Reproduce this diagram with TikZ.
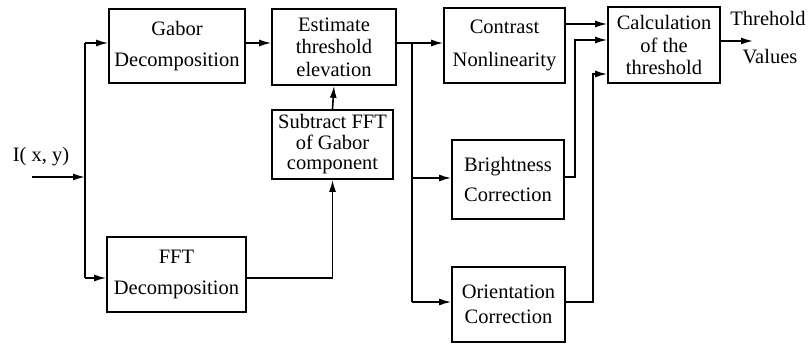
\documentclass[tikz,border=0pt]{standalone}
\usepackage{fontspec}
\setmainfont{Liberation Serif}
\usetikzlibrary{arrows.meta}

\begin{document}
\begin{tikzpicture}
            [
            x=1pt, y=-1pt,
            every node/.style={font={\fontsize{20.5}{22.5}\selectfont}},
            block/.style={draw, line width=1.7pt, inner sep=0pt,
                align=center},
            arr/.style={line width=1.6pt, -{Latex[length=12pt,width=7pt]}},
            wire/.style={line width=1.6pt},
            ]
            \useasboundingbox (0,0) rectangle (808,345);
            % Boxes
            \node[block, minimum width=136, minimum height=74] (gabor) at (177,46)
                {Gabor\\[9pt]Decomposition};
            \node[block, minimum width=124, minimum height=76] (estim) at (334,47)
                {Estimate\\threshold\\elevation};
            \node[block, minimum width=121, minimum height=69] (subtr) at (332.5,144.5)
                {Subtract FFT\\[-2pt]of Gabor\\[-2pt]component};
            \node[block, minimum width=139, minimum height=75] (fft) at (176.5,274.5)
                {FFT\\[9pt]Decomposition};
            \node[block, minimum width=121, minimum height=75] (contr) at (504.5,45.5)
                {Contrast\\[10pt]Nonlinearity};
            \node[block, minimum width=112, minimum height=79] (bright) at (508,179.5)
                {Brightness\\[8pt]Correction};
            \node[block, minimum width=113, minimum height=75] (orient) at (508.5,304.5)
                {Orientation\\[2pt]Correction};
            \node[block, minimum width=112, minimum height=76] (calc) at (664,45)
                {Calculation\\of the\\threshold};

            % Labels
            \node (inlab) at (41,157) {I( x, y)};
            \node (thr) at (768,18) {Threhold};
            \node (val) at (770,57) {Values};

            % Input side
            \coordinate (in) at (32,177);
            \coordinate (split) at (85,177);
            \coordinate (jg) at (85,43);
            \coordinate (jf) at (85,278);
            \draw[arr] (in) -- (split);
            \draw[wire] (jg) -- (jf);
            \draw[arr] (jg) -- (jg -| gabor.west);
            \draw[arr] (jf) -- (jf -| fft.west);
            \draw[arr] (gabor.east |- jg) -- (estim.west |- jg);
            \draw[arr] (jf -| fft.east) -| (subtr.south);
            \draw[arr] (subtr.north) -- (estim.south);

            % Branches
            \coordinate (branch) at (412,43);
            \coordinate (jb) at (412,178);
            \coordinate (jo) at (412,302);
            \draw[wire] (estim.east |- branch) -- (branch) -- (jo);
            \draw[arr] (branch) -- (branch -| contr.west);
            \draw[arr] (jb) -- (jb -| bright.west);
            \draw[arr] (jo) -- (jo -| orient.west);

            % Into the calculation
            \draw[arr] ([yshift=21.5]contr.east) -- ([yshift=21]calc.west);
            \draw[arr] ([yshift=2.5]bright.east) -- ++(10,0) |- ([yshift=5]calc.west);
            \draw[arr] ([yshift=2.5]orient.east) -- ++(27,0) |- ([yshift=-29]calc.west);

            % Output
            \coordinate (out) at (753,41);
            \draw[arr] (calc.east |- out) -- (out);
        \end{tikzpicture}
\end{document}
